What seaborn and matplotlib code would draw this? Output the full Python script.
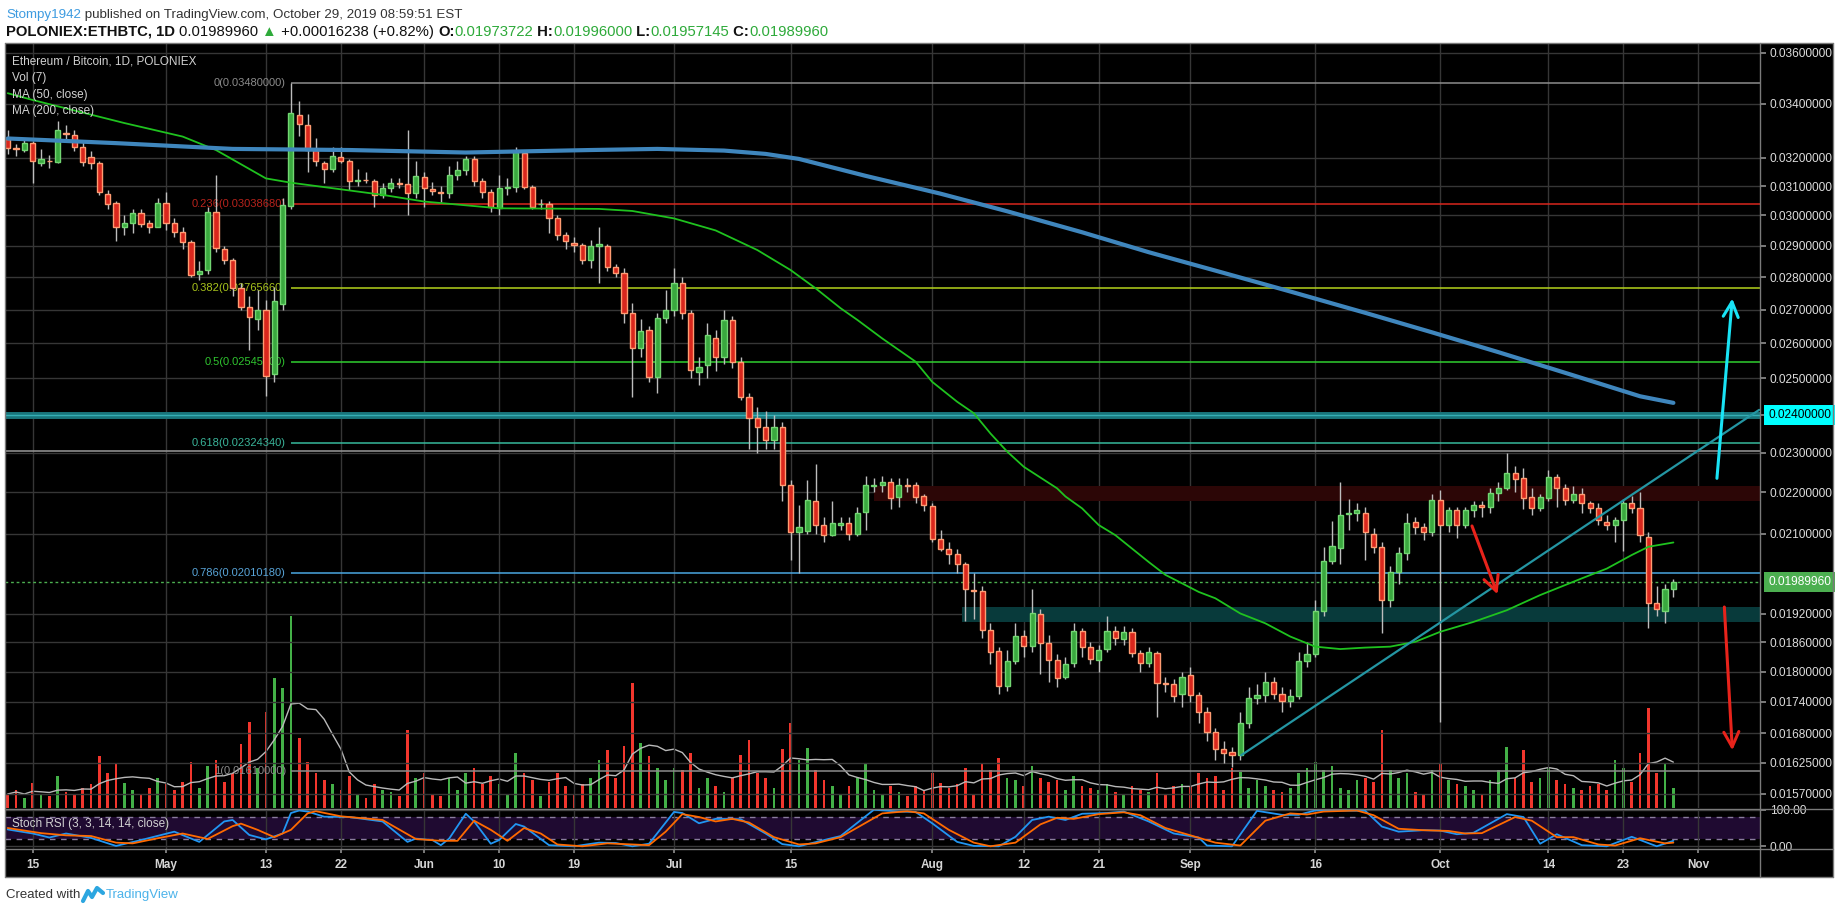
import matplotlib
matplotlib.use('Agg')
import matplotlib.pyplot as plt
import matplotlib.transforms as mtrans
from matplotlib.lines import Line2D
from matplotlib.patches import Rectangle
from matplotlib.ticker import NullLocator, NullFormatter
import numpy as np
import pandas as pd
import seaborn as sns

# ---------------- data (ETH/BTC daily, Poloniex) ----------------
start_date = '2019-04-12'

opens = [
    .03267, .03235, .03228, .03253, .03183, .03190, .03184, .03290, .03283, .03240,
    .03204, .03181, .03072, .03041, .02963, .02974, .03007, .02974, .02961, .03041,
    .02974, .02944, .02912, .02810, .02821, .03011, .02890, .02855, .02766, .02709,
    .02671, .02699, .02511, .02716, .03033, .03358, .03320, .03228, .03181, .03159,
    .03204, .03190, .03117, .03122, .03118, .03070, .03093, .03110, .03107, .03076,
    .03131, .03089, .03079, .03076, .03139, .03157, .03195, .03118, .03079, .03026,
    .03093, .03096, .03216, .03098, .03038, .03038, .02991, .02935, .02909, .02902,
    .02853, .02898, .02900, .02831, .02814, .02689, .02585, .02639, .02504, .02673,
    .02698, .02781, .02689, .02518, .02537, .02614, .02559, .02667, .02545, .02449,
    .02391, .02368, .02333, .02368, .02219, .02105, .02107, .02180, .02121, .02097,
    .02121, .02127, .02101, .02153, .02215, .02219, .02226, .02188, .02219, .02219,
    .02190, .02167, .02089, .02066, .02053, .02030, .01973, .01971, .01886, .01843,
    .01772, .01822, .01874, .01853, .01920, .01858, .01824, .01789, .01817, .01884,
    .01850, .01824, .01847, .01884, .01867, .01881, .01838, .01817, .01838, .01777,
    .01776, .01755, .01793, .01754, .01721, .01683, .01651, .01645, .01639, .01700,
    .01747, .01754, .01780, .01756, .01741, .01751, .01821, .01836, .01927, .02038,
    .02068, .02148, .02150, .02150, .02101, .02070, .01950, .02013, .02056, .02129,
    .02117, .02104, .02181, .02121, .02157, .02122, .02157, .02169, .02165, .02198,
    .02212, .02249, .02235, .02188, .02163, .02186, .02237, .02212, .02181, .02195,
    .02173, .02161, .02129, .02122, .02133, .02173, .02162, .02093, .01944, .01927,
    .01973722]

closes = [
    .03235, .03230, .03253, .03187, .03195, .03189, .03301, .03287, .03240, .03184,
    .03181, .03079, .03038, .02961, .02974, .03007, .02972, .02961, .03041, .02974,
    .02944, .02912, .02805, .02820, .03011, .02893, .02855, .02766, .02709, .02677,
    .02699, .02507, .02727, .03036, .03364, .03323, .03228, .03187, .03159, .03206,
    .03190, .03117, .03122, .03120, .03070, .03093, .03110, .03108, .03076, .03136,
    .03093, .03083, .03078, .03139, .03157, .03195, .03118, .03079, .03028, .03093,
    .03096, .03222, .03098, .03030, .03040, .02991, .02935, .02914, .02902, .02853,
    .02898, .02905, .02831, .02814, .02689, .02585, .02636, .02503, .02673, .02698,
    .02781, .02690, .02523, .02533, .02624, .02560, .02667, .02545, .02449, .02391,
    .02368, .02333, .02368, .02219, .02105, .02117, .02181, .02121, .02097, .02125,
    .02127, .02101, .02149, .02219, .02219, .02226, .02186, .02219, .02217, .02188,
    .02169, .02089, .02066, .02053, .02030, .01975, .01971, .01886, .01839, .01772,
    .01822, .01874, .01853, .01921, .01858, .01823, .01788, .01816, .01884, .01850,
    .01825, .01845, .01884, .01869, .01881, .01838, .01817, .01839, .01777, .01776,
    .01752, .01789, .01754, .01721, .01683, .01651, .01644, .01639, .01700, .01747,
    .01754, .01780, .01756, .01741, .01751, .01821, .01836, .01926, .02038, .02071,
    .02145, .02150, .02156, .02105, .02070, .01950, .02013, .02056, .02125, .02117,
    .02104, .02181, .02121, .02157, .02122, .02157, .02169, .02165, .02198, .02212,
    .02249, .02233, .02186, .02163, .02188, .02237, .02212, .02181, .02195, .02173,
    .02161, .02133, .02122, .02133, .02173, .02162, .02097, .01944, .01930, .01974,
    .0198996]

highs = [
    .03300, .03250, .03265, .03262, .03230, .03210, .03335, .03320, .03300, .03262,
    .03225, .03190, .03085, .03050, .03000, .03020, .03020, .02985, .03060, .03080,
    .02990, .02960, .02920, .02850, .03030, .03140, .02900, .02860, .02780, .02740,
    .02760, .02730, .02770, .03060, .03480, .03410, .03360, .03270, .03190, .03240,
    .03240, .03195, .03160, .03150, .03125, .03110, .03130, .03130, .03300, .03190,
    .03150, .03115, .03100, .03170, .03190, .03205, .03205, .03130, .03090, .03140,
    .03130, .03240, .03225, .03105, .03055, .03050, .03000, .02945, .02930, .02910,
    .02920, .02960, .02905, .02840, .02830, .02720, .02670, .02650, .02690, .02760,
    .02830, .02800, .02700, .02560, .02660, .02640, .02700, .02680, .02560, .02460,
    .02420, .02410, .02400, .02380, .02230, .02170, .02230, .02270, .02140, .02180,
    .02140, .02140, .02165, .02240, .02235, .02240, .02235, .02235, .02235, .02225,
    .02195, .02175, .02110, .02080, .02065, .02035, .02010, .01980, .01900, .01850,
    .01845, .01900, .01885, .01975, .01930, .01875, .01835, .01830, .01900, .01890,
    .01860, .01855, .01915, .01895, .01895, .01890, .01845, .01850, .01842, .01790,
    .01785, .01800, .01810, .01760, .01730, .01690, .01665, .01655, .01720, .01770,
    .01775, .01800, .01790, .01770, .01765, .01840, .01860, .01950, .02070, .02130,
    .02225, .02185, .02175, .02165, .02115, .02080, .02025, .02070, .02150, .02140,
    .02125, .02195, .02205, .02165, .02165, .02165, .02180, .02180, .02210, .02225,
    .02300, .02265, .02260, .02210, .02195, .02255, .02245, .02220, .02215, .02210,
    .02180, .02175, .02145, .02140, .02185, .02190, .02200, .02105, .01980, .01985,
    .01996]

lows = [
    .03215, .03205, .03220, .03110, .03170, .03165, .03180, .03260, .03225, .03170,
    .03160, .03070, .03020, .02915, .02935, .02940, .02960, .02940, .02960, .02950,
    .02930, .02890, .02800, .02790, .02810, .02880, .02840, .02740, .02700, .02580,
    .02640, .02450, .02490, .02700, .03020, .03280, .03150, .03170, .03110, .03150,
    .03180, .03085, .03100, .03110, .03030, .03060, .03080, .03095, .03000, .03060,
    .03030, .03070, .03045, .03060, .03120, .03140, .03100, .03060, .03010, .03000,
    .03070, .03080, .03090, .03020, .03020, .02940, .02920, .02890, .02880, .02840,
    .02830, .02780, .02820, .02800, .02660, .02449, .02560, .02490, .02460, .02660,
    .02680, .02670, .02500, .02480, .02500, .02520, .02540, .02530, .02440, .02310,
    .02300, .02310, .02310, .02180, .02040, .02010, .02100, .02100, .02080, .02095,
    .02110, .02085, .02095, .02110, .02200, .02200, .02160, .02165, .02200, .02175,
    .02155, .02080, .02060, .02030, .02010, .01905, .01910, .01870, .01815, .01755,
    .01762, .01815, .01830, .01840, .01795, .01780, .01770, .01785, .01810, .01830,
    .01815, .01800, .01840, .01855, .01855, .01830, .01800, .01810, .01710, .01760,
    .01740, .01730, .01740, .01700, .01665, .01630, .01625, .01618, .01630, .01690,
    .01735, .01740, .01745, .01720, .01730, .01745, .01810, .01830, .01915, .02030,
    .02030, .02110, .02130, .02040, .02055, .01880, .01935, .01985, .02040, .02100,
    .02085, .02095, .01702, .02105, .02090, .02115, .02140, .02140, .02150, .02180,
    .02205, .02200, .02160, .02145, .02155, .02180, .02165, .02170, .02175, .02150,
    .02150, .02120, .02110, .02080, .02060, .02150, .02080, .01889, .01915, .01900,
    .01957145]

volumes = [
    14, 18, 10, 25, 14, 12, 32, 16, 14, 20,
    24, 52, 35, 44, 25, 18, 14, 20, 30, 24,
    18, 26, 46, 20, 42, 48, 26, 35, 64, 86,
    40, 96, 130, 120, 192, 70, 46, 35, 28, 24,
    18, 32, 14, 10, 24, 18, 16, 12, 78, 30,
    35, 14, 12, 30, 18, 35, 40, 24, 32, 24,
    14, 55, 35, 28, 12, 26, 35, 22, 14, 24,
    30, 48, 58, 30, 62, 125, 65, 52, 40, 28,
    40, 38, 55, 20, 30, 22, 16, 30, 53, 68,
    35, 30, 20, 59, 85, 48, 60, 38, 28, 22,
    14, 22, 30, 45, 18, 14, 22, 16, 12, 22,
    18, 35, 25, 20, 24, 40, 14, 45, 38, 50,
    30, 28, 22, 42, 30, 26, 28, 18, 32, 22,
    20, 18, 24, 16, 14, 22, 18, 16, 35, 14,
    22, 24, 22, 35, 30, 32, 18, 40, 36, 20,
    28, 22, 18, 16, 20, 35, 40, 46, 38, 42,
    20, 18, 28, 30, 26, 78, 38, 30, 35, 16,
    14, 38, 45, 28, 24, 22, 18, 14, 28, 38,
    61, 30, 58, 26, 30, 40, 28, 24, 20, 18,
    22, 24, 18, 48, 40, 26, 55, 100, 35, 45,
    20]

# moving averages (day number from start_date, value)
ma50_days = [0, 3, 14, 21, 25, 31, 34, 45, 50, 59, 71, 75, 80, 85, 90, 94, 97, 100, 102,
             105, 109, 111, 114, 116, 118, 120, 122, 126, 127, 129, 131, 133, 137, 139,
             141, 143, 145, 148, 151, 154, 157, 160, 163, 166, 169, 172, 176, 180, 184,
             189, 192, 195, 197, 200]
ma50_vals = [.03440, .03414, .03327, .03277, .03228, .03127, .03112, .03070, .03047, .03024,
             .03022, .03015, .02990, .02950, .02886, .02822, .02765, .02704, .02669, .02614,
             .02547, .02490, .02435, .02404, .02350, .02303, .02264, .02210, .02190, .02161,
             .02121, .02097, .02035, .02006, .01987, .01968, .01954, .01921, .01900, .01872,
             .01851, .01846, .01849, .01851, .01861, .01882, .01903, .01928, .01961, .01998,
             .02020, .02051, .02070, .02080]
ma200_days = [0, 13, 27, 41, 55, 70, 78, 86, 91, 95, 103, 112, 120, 129, 137, 146, 154,
              163, 171, 179, 188, 196, 200]
ma200_vals = [.03270, .03253, .03232, .03228, .03219, .03228, .03232, .03226, .03214, .03196,
              .03136, .03074, .03014, .02944, .02879, .02813, .02755, .02690, .02632, .02574,
              .02508, .02450, .02432]

# Stoch RSI (3, 3, 14, 14): %K (blue) and %D (orange)
stoch_k_days = [0, 3, 5, 7, 10, 13, 16, 20, 23, 26, 27, 29, 31, 33, 34, 35, 36, 38, 41, 45,
                48, 49, 51, 52, 53, 55, 56, 58, 59, 61, 62, 65, 68, 71, 73, 75, 77, 80, 81,
                83, 85, 88, 91, 93, 95, 98, 100, 104, 107, 109, 111, 114, 116, 119, 121, 123,
                125, 127, 129, 132, 134, 137, 140, 143, 144, 147, 150, 153, 155, 157, 160,
                163, 165, 167, 170, 172, 174, 176, 180, 182, 184, 186, 189, 192, 195, 198, 200]
stoch_k_vals = [46, 35, 24, 35, 23, 1, 17, 40, 12, 68, 72, 31, 19, 35, 91, 98, 95, 81, 80, 68,
                12, 21, 17, 3, 21, 89, 68, 7, 17, 61, 54, 3, 0, 10, 9, 0, 7, 94, 91,
                63, 75, 74, 35, 6, 0, 17, 28, 100, 95, 94, 63, 12, 1, 0, 26, 72,
                81, 72, 89, 91, 95, 68, 35, 24, 2, 0, 97, 86, 86, 98, 98,
                97, 54, 40, 44, 43, 33, 37, 88, 80, 7, 33, 3, 0, 26, 0, 15]
stoch_d_days = [0, 4, 7, 10, 13, 15, 18, 21, 24, 27, 28, 30, 32, 34, 36, 37, 40, 45, 49, 52,
                54, 56, 58, 60, 62, 64, 66, 69, 72, 75, 77, 79, 81, 83, 85, 87, 89, 92, 95,
                97, 100, 105, 108, 110, 113, 116, 118, 121, 124, 126, 128, 131, 134, 136, 139,
                142, 145, 148, 151, 154, 156, 158, 162, 164, 167, 170, 173, 175, 177, 181,
                183, 186, 188, 191, 193, 196, 199, 200]
stoch_d_vals = [50, 36, 30, 28, 10, 8, 22, 35, 20, 55, 62, 45, 25, 45, 90, 96, 82, 72, 20, 15,
                15, 70, 45, 15, 50, 35, 5, 0, 8, 5, 3, 40, 88, 80, 68, 75, 65, 25, 5,
                8, 25, 90, 96, 90, 45, 10, 0, 10, 60, 78, 75, 88, 93, 85, 50,
                30, 10, 2, 70, 90, 87, 95, 98, 85, 48, 44, 42, 35, 36, 80,
                70, 25, 25, 5, 2, 22, 8, 10]

date_ticks = ['2019-04-15', '2019-05-01', '2019-05-13', '2019-05-22', '2019-06-01',
              '2019-06-10', '2019-06-19', '2019-07-01', '2019-07-15', '2019-08-01',
              '2019-08-12', '2019-08-21', '2019-09-01', '2019-09-16', '2019-10-01',
              '2019-10-14', '2019-10-23', '2019-11-01']
date_labels = ['15', 'May', '13', '22', 'Jun', '10', '19', 'Jul', '15', 'Aug', '12', '21',
               'Sep', '16', 'Oct', '14', '23', 'Nov']
price_ticks = [0.036, 0.034, 0.032, 0.031, 0.030, 0.029, 0.028, 0.027, 0.026, 0.025, 0.024,
               0.023, 0.022, 0.021, 0.0192, 0.0186, 0.018, 0.0174, 0.0168, 0.01625, 0.0157]

# fibonacci retracement drawn from the May 16 high
fib_ratios = ['0', '0.236', '0.382', '0.5', '0.618', '0.786', '1']
fib_prices = [0.0348, 0.0303868, 0.0276566, 0.02545, 0.0232434, 0.0201018, 0.0161]
fib_colors = ['#8c8c8c', '#d8261e', '#b4d21c', '#2fcf2f', '#36b89c', '#4aa6e0', '#8c8c8c']
fib_text_colors = ['#8c8c8c', '#b8231c', '#a8c31c', '#2fc42f', '#3ab59a', '#58a4d8', '#8c8c8c']
fib_start_day = 34

resistance_price = 0.02305
key_level = 0.024
zones = [(104, 0.02178, 0.02215, '#2c0606'), (114.6, 0.01902, 0.01935, '#083a3b')]
trend_days = [148.1, 210.3]
trend_prices = [0.01639, 0.02413]
arrows = [((175.7, 0.02125), (179.0, 0.01957), '#e8231b'),
          ((206.1, 0.01941), (207.1, 0.01643), '#e8231b'),
          ((205.2, 0.02228), (207.1, 0.02742), '#19e3f5')]

# ---------------- figure ----------------
sns.set_theme(style='dark')
plt.rcParams['font.family'] = ['Liberation Sans', 'DejaVu Sans']

W, H = 1840, 913


def fx(px):
    return px / W


def fy(py):
    return 1 - py / H


o = np.array(opens)
c = np.array(closes)
hi = np.maximum(np.array(highs), np.maximum(o, c))
lo = np.minimum(np.array(lows), np.minimum(o, c))
vol = np.array(volumes, dtype=float)
days = np.arange(len(c))
up = c >= o
start = pd.Timestamp(start_date)
tick_days = [(pd.Timestamp(d) - start).days for d in date_ticks]
xmin, xmax = -0.33, 210.4

fig = plt.figure(figsize=(18.4, 9.13), dpi=100)
fig.patch.set_facecolor('white')
fig.add_artist(Rectangle((fx(5), fy(877)), fx(1833) - fx(5), fy(43) - fy(877),
                         transform=fig.transFigure, facecolor='black', edgecolor='none',
                         zorder=-5))

L, R, TOP, PB, SB = 5, 1760, 43, 808, 849
rect_price = [fx(L), fy(PB), fx(R) - fx(L), fy(TOP) - fy(PB)]
ax_vol = fig.add_axes(rect_price)
ax = fig.add_axes(rect_price)
ax_st = fig.add_axes([fx(L), fy(SB), fx(R) - fx(L), fy(PB + 1) - fy(SB)])

# volume (overlay at the bottom of the price pane)
ax_vol.set_axis_off()
vol_ma = pd.Series(vol).rolling(7, min_periods=1).mean()
ax_vol.bar(days, vol, width=0.32, color=np.where(up, '#43b047', '#f2362d'), linewidth=0)
sns.lineplot(x=days, y=vol_ma.values, ax=ax_vol, color='#b9b9b9', linewidth=1)
ax_vol.set_ylim(0, 765)
ax_vol.set_xlim(xmin, xmax)

# price pane
ax.set_facecolor('none')
ax.set_yscale('log')
for s in ax.spines.values():
    s.set_visible(False)
ax.set_yticks(price_ticks)
ax.set_yticklabels([f'{t:.8f}' for t in price_ticks])
ax.yaxis.set_minor_locator(NullLocator())
ax.yaxis.set_minor_formatter(NullFormatter())
ax.yaxis.tick_right()
ax.tick_params(axis='y', colors='#8a8a8a', labelcolor='#dcdcdc', labelsize=8.6, length=4,
               pad=3, left=False, right=True)
ax.set_xticks(tick_days)
ax.tick_params(axis='x', bottom=False, labelbottom=False)
ax.grid(True, color='#363636', linewidth=1)
ax.set_axisbelow(True)

for z_start, z_lo, z_hi, z_col in zones:
    ax.fill_between([z_start, xmax], z_lo, z_hi, color=z_col, linewidth=0, zorder=1)

ax.axhline(key_level, color='#19757b', linewidth=5, zorder=2)
ax.axhline(key_level, color='#35aeb4', linewidth=1, zorder=2)
ax.axhline(resistance_price, color='#8e8e8e', linewidth=1.2, zorder=2)
ax.hlines(fib_prices, fib_start_day, xmax, colors=fib_colors, linewidth=1.1, zorder=2)
for r, p, col in zip(fib_ratios, fib_prices, fib_text_colors):
    ax.text(fib_start_day - 0.6, p, f'{r}({p:.8f})', color=col, fontsize=8,
            ha='right', va='center', zorder=2)
ax.axhline(c[-1], color='#4caf50', linewidth=1, linestyle=(0, (2, 2)), zorder=2)

# candles
ax.vlines(days, lo, hi, color='#bdbdbd', linewidth=1, zorder=3)
body_lo = np.minimum(o, c)
body_h = np.maximum(np.abs(c - o), 0.000012)
ax.bar(days, body_h, bottom=body_lo, width=0.62,
       color=np.where(up, '#3aa83f', '#d9271d'),
       edgecolor=np.where(up, '#72d672', '#ff9c72'), linewidth=1, zorder=4)

sns.lineplot(x=ma50_days, y=ma50_vals, ax=ax, color='#1fc21f', linewidth=1.3, zorder=5)
sns.lineplot(x=ma200_days, y=ma200_vals, ax=ax, color='#3f86bd', linewidth=3,
             zorder=5).lines[-1].set_solid_capstyle('round')
sns.lineplot(x=trend_days, y=trend_prices, ax=ax, color='#2496a3', linewidth=1.6, zorder=5)
for (x0, y0), (x1, y1), col in arrows:
    ax.annotate('', xy=(x1, y1), xytext=(x0, y0),
                arrowprops=dict(arrowstyle='->,head_length=0.9,head_width=0.45',
                                color=col, lw=2.2), zorder=6)
ax.set_xlabel('')
ax.set_ylabel('')
ax.set_xlim(xmin, xmax)
ax.set_ylim(0.01545, 0.03639)

blend = mtrans.blended_transform_factory(ax.transAxes, ax.transData)
ax.text(1.0046, key_level, f'{key_level:.8f}', transform=blend, color='black', fontsize=8.6,
        va='center', ha='left', clip_on=False, zorder=7,
        bbox=dict(boxstyle='square,pad=0.35', facecolor='#00ffff', edgecolor='none'))
ax.text(1.0046, c[-1], f'{c[-1]:.8f}', transform=blend, color='white', fontsize=8.6,
        va='center', ha='left', clip_on=False, zorder=7,
        bbox=dict(boxstyle='square,pad=0.35', facecolor='#4caf50', edgecolor='none'))

# stoch rsi pane
ax_st.set_facecolor('black')
for s in ax_st.spines.values():
    s.set_visible(False)
ax_st.fill_between([xmin, xmax], 20, 80, color='#1f0a31', linewidth=0, zorder=0)
ax_st.hlines([20, 80], xmin, xmax, colors='#8a7c9e', linewidth=1, linestyles=(0, (4, 4)),
             zorder=1)
ax_st.hlines([0, 100], xmin, xmax, colors='#3a3a3a', linewidth=1, zorder=1)
for d in tick_days:
    ax_st.axvline(d, color='#363636', linewidth=1, zorder=1)
sns.lineplot(x=stoch_k_days, y=stoch_k_vals, ax=ax_st, color='#2196f3', linewidth=1.3,
             zorder=3)
sns.lineplot(x=stoch_d_days, y=stoch_d_vals, ax=ax_st, color='#ff6a00', linewidth=1.3,
             zorder=3)
ax_st.set_xlabel('')
ax_st.set_ylabel('')
ax_st.set_xlim(xmin, xmax)
ax_st.set_ylim(-7.4, 102)
ax_st.set_xticks(tick_days)
ax_st.set_xticklabels(date_labels, fontweight='bold')
ax_st.tick_params(axis='x', colors='#8a8a8a', labelcolor='#d6d6d6', labelsize=8.5,
                  length=3, pad=4, bottom=True)
ax_st.yaxis.tick_right()
ax_st.set_yticks([0, 100])
ax_st.set_yticklabels(['0.00', '100.00'])
ax_st.tick_params(axis='y', colors='#8a8a8a', labelcolor='#dcdcdc', labelsize=8.6, length=4,
                  pad=3, left=False, right=True)

# pane separators and frame
for x0, y0, x1, y1 in [(5, 43, 1833, 43), (5, 877, 1833, 877), (5, 43, 5, 877),
                       (1833, 43, 1833, 877), (1760, 43, 1760, 877),
                       (5, 808.5, 1833, 808.5), (5, 849, 1833, 849)]:
    fig.add_artist(Line2D([fx(x0), fx(x1)], [fy(y0), fy(y1)], transform=fig.transFigure,
                          color='#7a7a7a', linewidth=1, zorder=8))

# legend text in the panes
for yy, txt in [(61, 'Ethereum / Bitcoin, 1D, POLONIEX'), (78, 'Vol (7)'),
                (95, 'MA (50, close)'), (111, 'MA (200, close)'),
                (824, 'Stoch RSI (3, 3, 14, 14, close)')]:
    fig.text(fx(12), fy(yy), txt, color='#d2d2d2', fontsize=8.5, va='center', zorder=9)

# header and footer
renderer = fig.canvas.get_renderer()


def write_run(y, x0, parts, size):
    xpos = x0
    for txt, col, wt in parts:
        t = fig.text(fx(xpos), fy(y), txt, color=col, fontsize=size, fontweight=wt,
                     va='center', ha='left')
        xpos += t.get_window_extent(renderer=renderer).width


green = '#2eaa3a'
write_run(15, 6, [('Stompy1942', '#3d9be0', 'normal'),
                  (' published on TradingView.com, October 29, 2019 08:59:51 EST', '#333333',
                   'normal')], 9.6)
write_run(32, 6, [('POLONIEX:ETHBTC, 1D ', '#111111', 'bold'),
                  ('0.01989960 ', '#111111', 'normal'), ('\u25b2', green, 'normal'),
                  (' +0.00016238 (+0.82%) ', '#111111', 'normal'),
                  ('O:', '#111111', 'bold'), ('0.01973722', green, 'normal'),
                  (' H:', '#111111', 'bold'), ('0.01996000', green, 'normal'),
                  (' L:', '#111111', 'bold'), ('0.01957145', green, 'normal'),
                  (' C:', '#111111', 'bold'), ('0.01989960', green, 'normal')], 10.7)
fig.text(fx(6), fy(895), 'Created with', color='#333333', fontsize=9.5, va='center')
fig.add_artist(Line2D([fx(83), fx(88), fx(92), fx(97), fx(103)],
                      [fy(901), fy(891), fy(897), fy(888), fy(893)],
                      transform=fig.transFigure, color='#2ca6e0', linewidth=3))
fig.text(fx(106), fy(895), 'TradingView', color='#4cb3ea', fontsize=9.5, va='center')

fig.savefig('out.png', dpi=100, facecolor='white')
